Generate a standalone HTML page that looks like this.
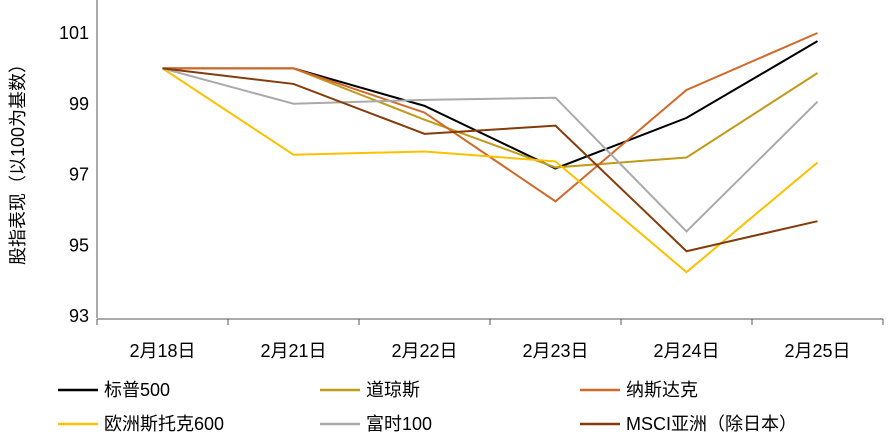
<!DOCTYPE html>
<html><head><meta charset="utf-8"><style>
body{margin:0;background:#fff;}
svg text{font-family:"Liberation Sans","Noto Sans CJK SC",sans-serif;fill:#000;}
</style></head><body>
<svg width="891" height="440" id="c"></svg>
<script>
const categories=["2月18日","2月21日","2月22日","2月23日","2月24日","2月25日"];
const yTicks=[93,95,97,99,101];
const seriesNames=["标普500","道琼斯","纳斯达克","欧洲斯托克600","富时100","MSCI亚洲（除日本）"];
const sp500=[100,100,98.94,97.17,98.6,100.77];
const dow=[100,100,98.55,97.2,97.48,99.87];
const nasdaq=[100,100,98.75,96.24,99.39,101];
const stoxx=[100,97.56,97.65,97.37,94.24,97.34];
const ftse=[100,99,99.11,99.17,95.39,99.06];
const msci=[100,99.56,98.15,98.38,94.83,95.68];
const colors=["#000000","#C09A1A","#D0692A","#FFC000","#AAAAAA","#843C0C"];
const allSeries=[sp500,dow,nasdaq,stoxx,ftse,msci];
const svg=document.getElementById('c');const NS="http://www.w3.org/2000/svg";
const x0=97,x1=883,yBot=316,yMin=93;
const band=(x1-x0)/categories.length;
const X=i=>x0+band*(i+0.5);
const Y=v=>yBot-(v-yMin)*(yBot-33)/(101-93);
function el(t,a,p){const e=document.createElementNS(NS,t);for(const k in a)e.setAttribute(k,a[k]);(p||svg).appendChild(e);return e;}
let ax=el('line',{x1:x0,y1:0,x2:x0,y2:yBot+2,stroke:'#555','stroke-width':1});


let xa=el('line',{x1:x0,y1:yBot+3,x2:x1,y2:yBot+3,stroke:'#555','stroke-width':1});


yTicks.forEach(v=>{const t=el('text',{x:x0-8,y:Y(v)+6,'text-anchor':'end','font-size':18});t.textContent=v;

});
for(let i=0;i<=categories.length;i++){const tk=el('line',{x1:x0+band*i,y1:yBot+3,x2:x0+band*i,y2:yBot+9,stroke:'#555'});

}
categories.forEach((c,i)=>{const t=el('text',{x:X(i),y:357,'text-anchor':'middle','font-size':18});t.textContent=c;

});
const yt=el('text',{x:0,y:0,'text-anchor':'middle','font-size':18,transform:'translate(24,160) rotate(-90)'});yt.textContent="股指表现（以100为基数）";


allSeries.forEach((s,k)=>{const p=el('polyline',{points:s.map((v,i)=>X(i)+','+Y(v)).join(' '),fill:'none',stroke:colors[k],'stroke-width':2});

});
const lx=[58,320,580],ly=[390,424];
seriesNames.forEach((n,k)=>{const cx=lx[k%3],cy=ly[Math.floor(k/3)];
const g=el('g',{});


el('line',{x1:cx,y1:cy,x2:cx+40,y2:cy,stroke:colors[k],'stroke-width':2.5},g);
const t=el('text',{x:cx+46,y:cy+6,'font-size':18},g);t.textContent=n;});
</script></body></html>
